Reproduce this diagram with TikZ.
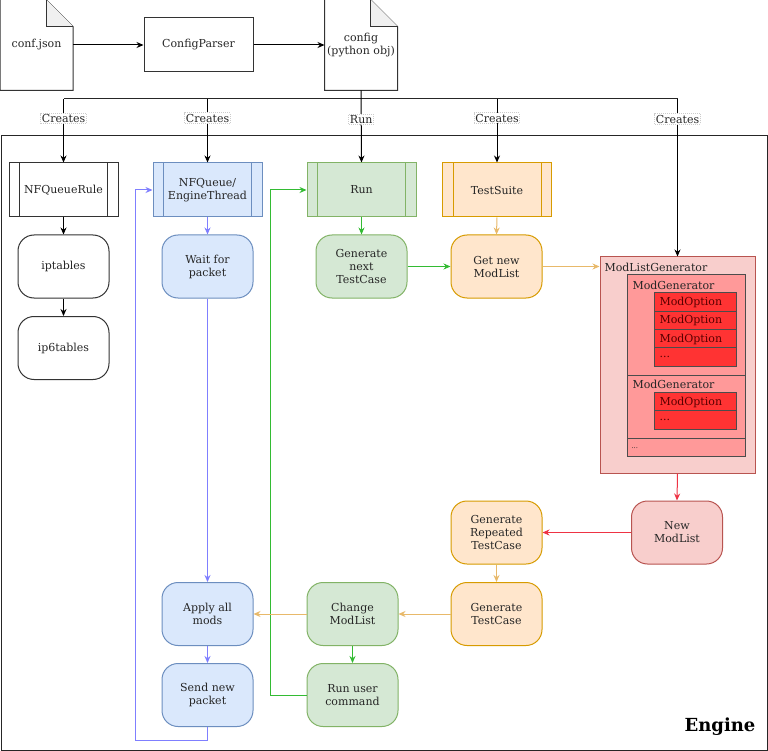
\documentclass[tikz,border=0pt]{standalone}
\usepackage{fontspec}
\setmainfont{DejaVu Serif}
\usepackage{xcolor}
\usetikzlibrary{arrows.meta}

\definecolor{bluefill}{HTML}{DAE8FC}
\definecolor{bluedraw}{HTML}{6C8EBF}
\definecolor{bluearrow}{HTML}{7F7FFF}
\definecolor{greenfill}{HTML}{D5E8D4}
\definecolor{greendraw}{HTML}{82B366}
\definecolor{greenarrow}{HTML}{33BB33}
\definecolor{orangefill}{HTML}{FFE6CC}
\definecolor{orangedraw}{HTML}{D79B00}
\definecolor{orangearrow}{HTML}{E8B96A}
\definecolor{redfill}{HTML}{F8CECC}
\definecolor{reddraw}{HTML}{B85450}
\definecolor{redarrow}{HTML}{EE3344}
\definecolor{genfill}{HTML}{FF9999}
\definecolor{optfill}{HTML}{FF3333}

\tikzset{
  every node/.style={font=\fontsize{11}{13}\selectfont, text=black!85},
  doc/.style={minimum width=72pt, minimum height=90pt, align=center, inner sep=0pt},
  plain/.style={draw=black!80, minimum width=109pt, minimum height=54pt},
  proc/.style={draw=black!80, minimum width=109pt, minimum height=54pt, align=center},
  stepbox/.style={draw=black!80, rounded corners=16pt, minimum width=91pt, minimum height=63pt, align=center},
  tag/.style={draw=gray!40, densely dotted, fill=white, inner sep=1pt},
  arr/.style={-{Stealth[length=7pt,width=6pt]}},
}

\newcommand\docoutline[1]{%
  \draw[black!80] (#1.north west) -- ([xshift=-27pt]#1.north east) -- ([yshift=-27pt]#1.north east)
    -- (#1.south east) -- (#1.south west) -- cycle;
  \draw[black!80, fill=gray!12] ([xshift=-27pt]#1.north east) -- ([xshift=-27pt,yshift=-27pt]#1.north east)
    -- ([yshift=-27pt]#1.north east);}
\newcommand\sidebars[2]{%
  \draw[#2] ([xshift=11pt]#1.north west) -- ([xshift=11pt]#1.south west)
    ([xshift=-11pt]#1.north east) -- ([xshift=-11pt]#1.south east);}

\begin{document}
\begin{tikzpicture}[x=1pt,y=-1pt,line width=1pt]
  \fill[white] (0,0) rectangle (768,751);
  \useasboundingbox (0,0) rectangle (768,751);

  % config files
  \node[doc] (json) at (36.5,45) {conf.json};
  \docoutline{json}
  \node[plain] (parser) at (198.5,45) {ConfigParser};
  \node[doc] (config) at (361,45) {config\\(python obj)};
  \docoutline{config}
  \draw[arr] (json.east) -- (parser.west);
  \draw[arr] (parser.east) -- (config.west);

  % engine frame
  \draw[black!85] (1,136) rectangle (767,750);
  \node[font=\fontsize{18}{20}\selectfont\bfseries, text=black] (engine) at (720,727) {Engine};

  % iptables
  \node[proc] (rule) at (63.5,190) {NFQueueRule};
  \sidebars{rule}{black!80}
  \node[stepbox] (ipt) at (63.5,266.5) {iptables};
  \node[stepbox] (ip6) at (63.5,348) {ip6tables};
  \draw[arr] (rule.south) -- (ipt.north);
  \draw[arr] (ipt.south) -- (ip6.north);

  % engine thread
  \node[proc, fill=bluefill, draw=bluedraw] (queue) at (207.5,190) {NFQueue/\\EngineThread};
  \sidebars{queue}{bluedraw}
  \node[stepbox, fill=bluefill, draw=bluedraw] (wait) at (207.5,266.5) {Wait for\\packet};
  \node[stepbox, fill=bluefill, draw=bluedraw] (apply) at (207.5,614) {Apply all\\mods};
  \node[stepbox, fill=bluefill, draw=bluedraw] (send) at (207.5,695) {Send new\\packet};
  \draw[arr, bluearrow] (queue.south) -- (wait.north);
  \draw[arr, bluearrow] (wait.south) -- (apply.north);
  \draw[arr, bluearrow] (apply.south) -- (send.north);
  \draw[arr, bluearrow] (send.south) -- ++(0,13) -| ([xshift=-17pt]queue.west) -- (queue.west);

  % run
  \node[proc, fill=greenfill, draw=greendraw] (run) at (361.5,190) {Run};
  \sidebars{run}{greendraw}
  \node[stepbox, fill=greenfill, draw=greendraw] (nextcase) at (361.5,266.5) {Generate\\next\\TestCase};
  \node[stepbox, fill=greenfill, draw=greendraw] (change) at (352.5,614) {Change\\ModList};
  \node[stepbox, fill=greenfill, draw=greendraw] (usercmd) at (352.5,695) {Run user\\command};
  \draw[arr, greenarrow] (run.south) -- (nextcase.north);
  \draw[arr, greenarrow] (change.south) -- (usercmd.north);
  \draw[arr, greenarrow] (usercmd.west) -| ([xshift=-36pt]run.west) -- (run.west);

  % test suite
  \node[proc, fill=orangefill, draw=orangedraw] (suite) at (497,190) {TestSuite};
  \sidebars{suite}{orangedraw}
  \node[stepbox, fill=orangefill, draw=orangedraw] (newlist) at (496.5,266.5) {Get new\\ModList};
  \node[stepbox, fill=orangefill, draw=orangedraw] (repeated) at (496.5,532.5) {Generate\\Repeated\\TestCase};
  \node[stepbox, fill=orangefill, draw=orangedraw] (gencase) at (496.5,614) {Generate\\TestCase};
  \draw[arr, orangearrow] (suite.south) -- (newlist.north);
  \draw[arr, greenarrow] (nextcase.east) -- (newlist.west);
  \draw[arr, orangearrow] (repeated.south) -- (gencase.north);
  \draw[arr, orangearrow] (gencase.west) -- (change.east);
  \draw[arr, orangearrow] (change.west) -- (apply.east);

  % mod list generator
  \node[draw=reddraw, fill=redfill, minimum width=155pt, minimum height=216pt] (mlg) at (677.5,365) {};
  \node[anchor=west, inner sep=0pt] (mlglabel) at (604,267) {ModListGenerator};
  \node[draw=black!70, fill=genfill, minimum width=118pt, minimum height=100pt] (gen1) at (686,325) {};
  \node[draw=black!70, fill=genfill, minimum width=118pt, minimum height=63pt] (gen2) at (686,406.5) {};
  \node[draw=black!70, fill=genfill, minimum width=118pt, minimum height=18pt] (gendots) at (686,447) {};
  \node[anchor=west, inner sep=0pt] (gen1label) at (632,285) {ModGenerator};
  \node[anchor=west, inner sep=0pt] (gen2label) at (632,384) {ModGenerator};
  \node[anchor=west, inner sep=0pt, font=\fontsize{7}{8}\selectfont] (gendotslabel) at (631,448) {...};
  \foreach \y/\t in {302/ModOption, 320.5/ModOption, 339/ModOption, 357/{...}, 402/ModOption, 420/{...}} {
    \node[draw=black!70, fill=optfill, minimum width=82pt, minimum height=18.5pt] (opt\y) at (695,\y) {};
    \node[anchor=west, inner sep=0pt, text=red!35!black] at (659,\y) {\t};
  }
  \node[stepbox, fill=redfill, draw=reddraw] (newml) at (677,532.5) {New\\ModList};
  \draw[arr, orangearrow] (newlist.east) -- (newlist.east -| mlg.west);
  \draw[arr, redarrow] (mlg.south) -- (newml.north);
  \draw[arr, redarrow] (newml.west) -- (repeated.east);

  % config bus
  \coordinate (busL) at (64,99);
  \coordinate (busR) at (678,99);
  \draw[black!85] (busL) -- (busR);
  \draw[arr] (config.south) -- node[tag, pos=0.4] {Run} (run.north);
  \draw[arr] (rule.north |- busL) -- node[tag, pos=0.31] {Creates} (rule.north);
  \draw[arr] (queue.north |- busL) -- node[tag, pos=0.3] {Creates} (queue.north);
  \draw[arr] (suite.north |- busL) -- node[tag, pos=0.3] {Creates} (suite.north);
  \draw[arr] (mlg.north |- busR) -- node[tag, pos=0.127] {Creates} (mlg.north);
\end{tikzpicture}
\end{document}
